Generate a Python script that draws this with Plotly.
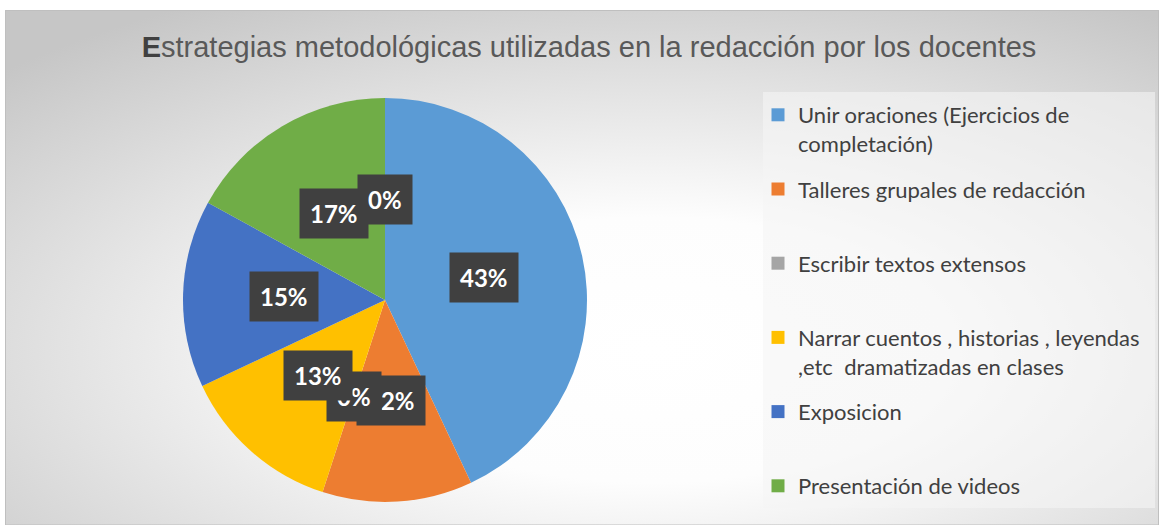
import math
import urllib.parse
import plotly.graph_objects as go

# datos
categorias = [
    "Unir oraciones (Ejercicios de<br>completación)",
    "Talleres grupales de redacción",
    "Escribir textos extensos",
    "Narrar cuentos , historias , leyendas<br>,etc  dramatizadas en clases",
    "Exposicion",
    "Presentación de videos",
]
porcentajes = [43, 12, 0, 13, 15, 17]
# la serie trae un punto mas, vacio, que solo se ve como etiqueta "0%"
porcentaje_extra = 0
colores = ["#5B9BD5", "#ED7D31", "#A5A5A5", "#FFC000", "#4472C4", "#70AD47"]

W, H = 1159, 525
cx, cy, r = 385, 300, 202  # centro y radio del pastel en px

fig = go.Figure()
fig.add_trace(go.Pie(
    labels=categorias,
    values=porcentajes,
    marker=dict(colors=colores, line=dict(width=0)),
    sort=False,
    direction="clockwise",
    rotation=0,
    textinfo="none",
    hoverinfo="label+percent",
    showlegend=False,
    domain=dict(x=[(cx - r) / W, (cx + r) / W], y=[1 - (cy + r) / H, 1 - (cy - r) / H]),
))

# leyenda: una entrada por categoria, todas de 2 lineas para que queden
# repartidas con el mismo paso que en el original
for i, (c, col) in enumerate(zip(categorias, colores)):
    txt = c
    if "<br>" not in c and i < len(categorias) - 1:
        txt = c + "<br> "
    fig.add_trace(go.Scatter(
        x=[None], y=[None], mode="markers", name=txt, legendgroup=str(i),
        marker=dict(symbol="square", size=13, color=col), hoverinfo="skip",
    ))

# etiquetas de datos en cajas oscuras, a media distancia del radio
todas = porcentajes + [porcentaje_extra]
acum = 0
for v in todas:
    ang = (acum + v / 2) / 100 * 2 * math.pi
    acum += v
    px_ = cx + 0.5 * r * math.sin(ang)
    py_ = cy - 0.5 * r * math.cos(ang)
    fig.add_annotation(
        x=px_ / W, y=1 - py_ / H, xref="paper", yref="paper",
        xanchor="center", yanchor="middle",
        text="<b>%d%%</b>" % v, showarrow=False,
        font=dict(family="Lato", size=24, color="white"),
        bgcolor="#404040", borderpad=10,
    )

# fondo degradado del area del grafico
svg = ('<svg xmlns="http://www.w3.org/2000/svg" width="1154" height="515">'
       '<defs><radialGradient id="g" cx="0.56" cy="0.66" r="0.78">'
       '<stop offset="0" stop-color="#ffffff"/><stop offset="0.33" stop-color="#fdfdfd"/>'
       '<stop offset="1" stop-color="#c6c6c6"/></radialGradient></defs>'
       '<rect width="1154" height="515" fill="url(#g)"/></svg>')
fig.add_layout_image(
    source="data:image/svg+xml;charset=utf-8," + urllib.parse.quote(svg),
    xref="paper", yref="paper", x=5 / W, y=1 - 10 / H,
    sizex=1154 / W, sizey=515 / H, sizing="stretch",
    xanchor="left", yanchor="top", layer="below",
)

fig.update_layout(
    width=W, height=H,
    margin=dict(l=0, r=0, t=0, b=0),
    paper_bgcolor="white",
    plot_bgcolor="rgba(0,0,0,0)",
    xaxis=dict(visible=False),
    yaxis=dict(visible=False),
    title=dict(
        text="<b><span style='color:#404040'>E</span></b>strategias metodológicas utilizadas en la redacción por los docentes",
        x=589 / W, xanchor="center", y=1 - 47 / H, yanchor="middle",
        font=dict(family="Liberation Sans", size=29, color="#595959"),
    ),
    legend=dict(
        x=758 / W, xanchor="left", y=1 - 94 / H, yanchor="top",
        font=dict(family="Lato", size=22, color="#404040"),
        valign="top", bgcolor="rgba(0,0,0,0)", tracegroupgap=14,
        maxheight=520,
    ),
    shapes=[
        dict(type="rect", xref="paper", yref="paper",
             x0=763 / W, x1=1155 / W, y0=1 - 508 / H, y1=1 - 92 / H,
             fillcolor="rgba(245,245,245,0.6)", line=dict(width=0), layer="below"),
        dict(type="rect", xref="paper", yref="paper",
             x0=5.5 / W, x1=1158.5 / W, y0=0, y1=1 - 10.5 / H,
             line=dict(color="#bfbfbf", width=1), layer="below"),
    ],
)

fig.write_html("out.html", config={"displayModeBar": False},
               post_script="document.body.style.margin='0';")
